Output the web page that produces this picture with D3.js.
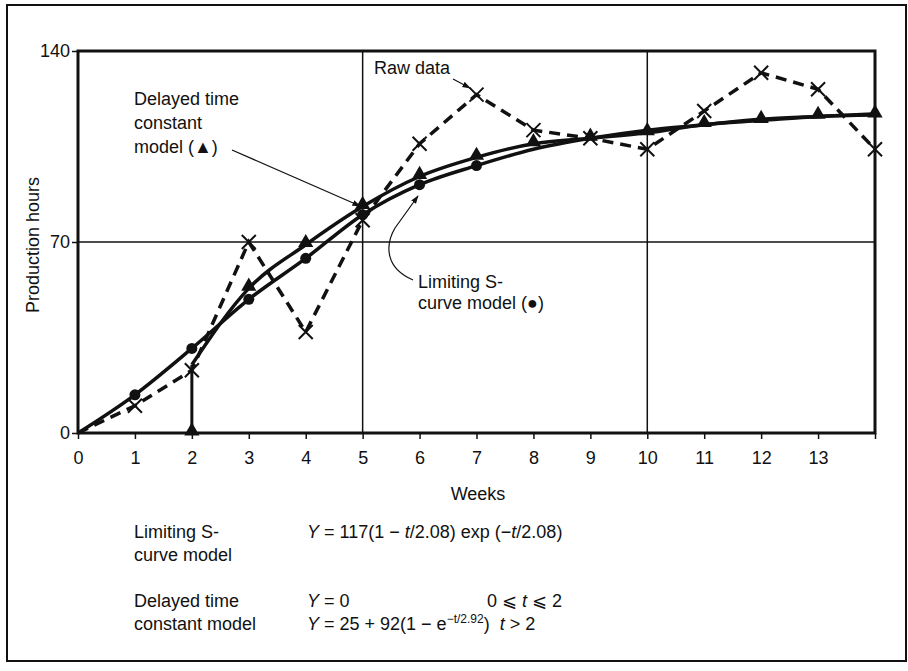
<!DOCTYPE html>
<html>
<head>
<meta charset="utf-8">
<script src="https://cdn.jsdelivr.net/npm/d3@7"></script>
<style>
  body { margin: 0; background: #fff; }
  svg text { font-family: "Liberation Sans", Arial, sans-serif; fill: #111; }
</style>
</head>
<body>
<div id="chart"></div>
<script>
// data
const weeks = [0, 1, 2, 3, 4, 5, 6, 7, 8, 9, 10, 11, 12, 13, 14];
const weekLabels = ["0", "1", "2", "3", "4", "5", "6", "7", "8", "9", "10", "11", "12", "13", ""];
const rawHours = [0, 10, 23, 70, 37, 78, 106, 124, 111, 108, 104, 118, 132, 126, 104];
const sCurveHours = [0, 14, 31, 49, 64, 80, 91, 98, 104, 108, 111, 113, 115, 116, 117];
// delayed model: zero until week 2, then jumps to 25
const delayedHours = [0, 0, 25, 53, 69, 83, 94, 101, 106, 108, 110, 113, 114.5, 116, 116.5];
const delayWeek = 2;
const yTicks = [0, 70, 140];
const gridWeeks = [5, 10];
const gridHours = [70];

const W = 908, H = 671;
const FS = "18px";
const svg = d3.select("#chart").append("svg")
  .attr("width", W).attr("height", H);

// arrow head
svg.append("defs").append("marker")
  .attr("id", "arrow")
  .attr("viewBox", "0 0 10 10")
  .attr("refX", 9).attr("refY", 5)
  .attr("markerWidth", 7).attr("markerHeight", 7)
  .attr("orient", "auto")
  .append("path").attr("d", "M0,1.5 L10,5 L0,8.5 Z").attr("fill", "#111");

// outer border
svg.append("rect")
  .attr("x", 7).attr("y", 5).attr("width", 899).attr("height", 656)
  .attr("fill", "none").attr("stroke", "#111").attr("stroke-width", 2);

const x = d3.scaleLinear().domain([0, 14]).range([78, 875]);
const y = d3.scaleLinear().domain([0, 140]).range([433, 51]);

// grid
svg.selectAll(".vgrid").data(gridWeeks).enter().append("line")
  .attr("x1", d => x(d)).attr("x2", d => x(d))
  .attr("y1", y(0)).attr("y2", y(140))
  .attr("stroke", "#111").attr("stroke-width", 1.5);
svg.selectAll(".hgrid").data(gridHours).enter().append("line")
  .attr("x1", x(0)).attr("x2", x(14))
  .attr("y1", d => y(d)).attr("y2", d => y(d))
  .attr("stroke", "#111").attr("stroke-width", 1.5);

// axes
const xAxis = svg.append("g")
  .attr("transform", "translate(0," + y(0) + ")")
  .call(d3.axisBottom(x).tickValues(weeks).tickFormat((d, i) => weekLabels[i]).tickSize(6).tickPadding(12));
const yAxis = svg.append("g")
  .attr("transform", "translate(" + x(0) + ",0)")
  .call(d3.axisLeft(y).tickValues(yTicks).tickSize(6).tickPadding(2));
[xAxis, yAxis].forEach(a => {
  a.select(".domain").remove();
  a.selectAll("line").attr("stroke", "#111").attr("stroke-width", 1.5);
  a.selectAll("text").style("font-size", FS).attr("fill", "#111");
});

// plot frame
svg.append("rect")
  .attr("x", x(0)).attr("y", y(140))
  .attr("width", x(14) - x(0)).attr("height", y(0) - y(140))
  .attr("fill", "none").attr("stroke", "#111").attr("stroke-width", 3);

// raw data, dashed
const rawLine = d3.line().x((d, i) => x(weeks[i])).y(d => y(d));
svg.append("path")
  .attr("d", rawLine(rawHours))
  .attr("fill", "none").attr("stroke", "#111")
  .attr("stroke-width", 3.5).attr("stroke-dasharray", "11,7");

// limiting S-curve
const smooth = d3.line().x(d => x(d[0])).y(d => y(d[1])).curve(d3.curveMonotoneX);
svg.append("path")
  .attr("d", smooth(weeks.map((w, i) => [w, sCurveHours[i]])))
  .attr("fill", "none").attr("stroke", "#111").attr("stroke-width", 3.5);

// delayed time constant model
svg.append("path")
  .attr("d", d3.line()([[x(delayWeek), y(0)], [x(delayWeek), y(delayedHours[2])]]))
  .attr("stroke", "#111").attr("stroke-width", 3);
const delayedPts = weeks.map((w, i) => [w, delayedHours[i]]).filter(d => d[0] >= delayWeek);
svg.append("path")
  .attr("d", smooth(delayedPts))
  .attr("fill", "none").attr("stroke", "#111").attr("stroke-width", 3.5);

// markers
svg.selectAll(".circ").data(sCurveHours.slice(1, 8)).enter().append("circle")
  .attr("cx", (d, i) => x(weeks[i + 1])).attr("cy", d => y(d))
  .attr("r", 5.5).attr("fill", "#111");

const triPts = delayedPts.map((d, i) => i === 0 ? [d[0], 0] : d);
svg.selectAll(".tri").data(triPts).enter().append("path")
  .attr("d", d3.symbol().type(d3.symbolTriangle).size(100))
  .attr("transform", d => "translate(" + x(d[0]) + "," + (y(d[1]) - 2) + ")")
  .attr("fill", "#111");

svg.selectAll(".cross").data(rawHours.slice(1)).enter().append("path")
  .attr("d", "M-7,-7 L7,7 M-7,7 L7,-7")
  .attr("transform", (d, i) => "translate(" + x(weeks[i + 1]) + "," + y(d) + ")")
  .attr("stroke", "#111").attr("stroke-width", 2).attr("fill", "none");

// axis titles
svg.append("text")
  .attr("transform", "translate(39,245) rotate(-90)")
  .attr("text-anchor", "middle").style("font-size", FS)
  .text("Production hours");
svg.append("text")
  .attr("x", 478).attr("y", 500)
  .attr("text-anchor", "middle").style("font-size", FS)
  .text("Weeks");

// annotations
function lines(x0, y0, arr, dy) {
  const t = svg.append("text").attr("x", x0).attr("y", y0).style("font-size", FS);
  arr.forEach((s, i) => t.append("tspan").attr("x", x0).attr("dy", i ? dy : 0).text(s));
  return t;
}
lines(374, 74, ["Raw data"], 0);
svg.append("path")
  .attr("d", "M453,79 L470,88")
  .attr("stroke", "#111").attr("stroke-width", 1.2).attr("fill", "none")
  .attr("marker-end", "url(#arrow)");

lines(134, 105, ["Delayed time", "constant", "model (\u25B2)"], 24);
svg.append("path")
  .attr("d", "M232,150 L360,206")
  .attr("stroke", "#111").attr("stroke-width", 1.2).attr("fill", "none")
  .attr("marker-end", "url(#arrow)");

lines(418, 288, ["Limiting S-", "curve model (\u25CF)"], 21);
svg.append("path")
  .attr("d", "M413,280 C385,268 385,245 395,228 L418,196")
  .attr("stroke", "#111").attr("stroke-width", 1.2).attr("fill", "none")
  .attr("marker-end", "url(#arrow)");

// formulas
lines(134, 538, ["Limiting S-", "curve model"], 23);
const f1 = svg.append("text").attr("x", 307).attr("y", 538).style("font-size", FS);
f1.append("tspan").style("font-style", "italic").text("Y");
f1.append("tspan").text(" = 117(1 \u2212 ");
f1.append("tspan").style("font-style", "italic").text("t");
f1.append("tspan").text("/2.08) exp (\u2212");
f1.append("tspan").style("font-style", "italic").text("t");
f1.append("tspan").text("/2.08)");

lines(134, 607, ["Delayed time", "constant model"], 23);
const f2 = svg.append("text").attr("x", 307).attr("y", 607).style("font-size", FS);
f2.append("tspan").style("font-style", "italic").text("Y");
f2.append("tspan").text(" = 0");
const f2b = svg.append("text").attr("x", 487).attr("y", 607).style("font-size", FS);
f2b.append("tspan").text("0 \u2A7D ");
f2b.append("tspan").style("font-style", "italic").text("t");
f2b.append("tspan").text(" \u2A7D 2");

const f3 = svg.append("text").attr("x", 307).attr("y", 630).style("font-size", FS);
f3.append("tspan").style("font-style", "italic").text("Y");
f3.append("tspan").text(" = 25 + 92(1 \u2212 e");
f3.append("tspan").attr("dy", -7).style("font-size", "12px").text("\u2212t/2.92");
f3.append("tspan").attr("dy", 7).text(")\u00A0\u00A0");
f3.append("tspan").style("font-style", "italic").text("t");
f3.append("tspan").text(" > 2");
</script>
</body>
</html>
